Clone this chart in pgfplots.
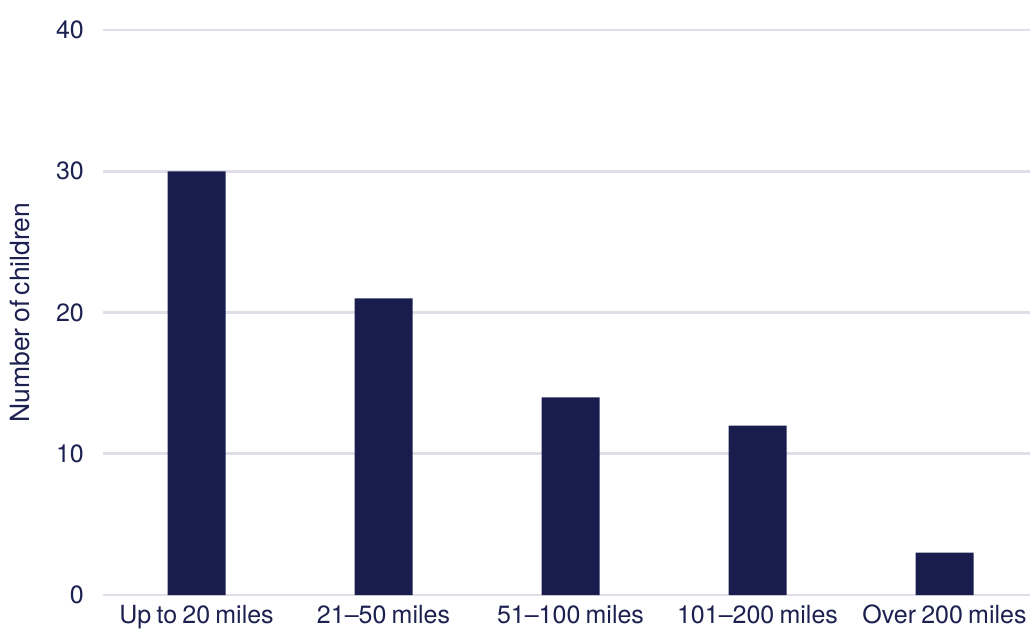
\documentclass[border=0pt]{standalone}
\usepackage{fontspec}
\setmainfont[WordSpace=0.75]{TeX Gyre Heros}
\usepackage{pgfplots}
\pgfplotsset{compat=1.18}
\definecolor{navy}{HTML}{181D4E}
\definecolor{inkblue}{HTML}{1C2150}
\definecolor{gridgray}{HTML}{E0DFE9}
\begin{document}
\begin{tikzpicture}
\useasboundingbox (0,0) rectangle (1030pt,630pt);
\clip (0,0) rectangle (1030pt,630pt);
\begin{axis}[
  at={(103pt,35pt)}, anchor=south west,
  scale only axis, width=935pt, height=565pt,
  xmin=-0.5, xmax=4.5, ymin=0, ymax=40,
  xtick=data,
  xticklabels={Up to 20 miles,21--50 miles,51--100 miles,101--200 miles,Over 200 miles},
  ytick={0,10,20,30,40},
  ymajorgrids, grid style={gridgray, line width=2.6pt},
  axis line style={draw=none},
  major tick length=0pt,
  tick label style={font=\fontsize{25}{29}\selectfont, text=inkblue, inner sep=0pt},
  /pgf/number format/assume math mode=true,
  yticklabel style={anchor=east, xshift=-19pt},
  xticklabel style={anchor=north, yshift=-10pt},
  ylabel={Number of children},
  ylabel style={at={(axis description cs:-0.0888,0.5)}, anchor=center,
    font=\fontsize{26.5}{30}\selectfont, text=inkblue},
  ybar, bar width=58pt, bar shift=0pt,
]
\addplot[fill=navy, draw=none] coordinates {(0,30) (1,21) (2,14) (3,12) (4,3)};
\end{axis}
\end{tikzpicture}
\end{document}
